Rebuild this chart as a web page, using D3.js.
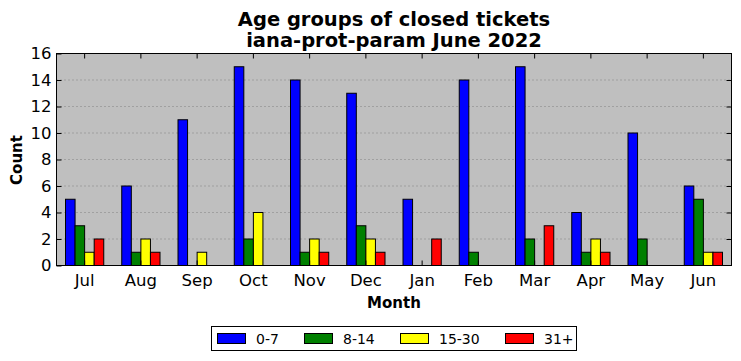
<!DOCTYPE html>
<html><head><meta charset="utf-8">
<script src="https://cdn.jsdelivr.net/npm/d3@7"></script>
<style>body{margin:0;background:#fff;} text{font-family:"DejaVu Sans";}</style>
</head><body>
<svg id="c" width="741" height="361"></svg>
<script>
const months = ["Jul","Aug","Sep","Oct","Nov","Dec","Jan","Feb","Mar","Apr","May","Jun"];
const seriesNames = ["0-7","8-14","15-30","31+"];
const colors = ["#0000ff","#008000","#ffff00","#ff0000"];
const s0_7   = [5,6,11,15,14,13,5,14,15,4,10,6];
const s8_14  = [3,1,0,2,1,3,0,1,2,1,2,5];
const s15_30 = [1,2,1,4,2,2,0,0,0,2,0,1];
const s31p   = [2,1,0,0,1,1,2,0,3,1,0,1];
const series = [s0_7, s8_14, s15_30, s31p];
const yTicks = [0,2,4,6,8,10,12,14,16];

const svg = d3.select("#c");
const L = 56.5, R = 731.5, T = 53.5, B = 265.5;
const x = d3.scaleBand().domain(months).range([L, R]).padding(0);
const y = d3.scaleLinear().domain([0,16]).range([B, T]);

svg.append("rect").attr("x",L).attr("y",T).attr("width",R-L).attr("height",B-T).attr("fill","#bfbfbf");

// grid
svg.append("g").selectAll("line").data(yTicks.slice(1,-1)).join("line")
  .attr("x1",L).attr("x2",R).attr("y1",d=>y(d)).attr("y2",d=>y(d))
  .attr("stroke","#808080").attr("stroke-width",1).attr("stroke-dasharray","1,3");

// bars
const bw = x.bandwidth()*0.17;
series.forEach((vals,si)=>{
  svg.append("g").selectAll("rect").data(vals).join("rect")
    .attr("x",(d,i)=>x(months[i]) + x.bandwidth()/2 + (si-2)*bw)
    .attr("y",d=>y(d))
    .attr("width",bw)
    .attr("height",d=>y(0)-y(d))
    .attr("fill",colors[si]).attr("stroke","#000").attr("stroke-width",1);
});

// frame
svg.append("rect").attr("x",L).attr("y",T).attr("width",R-L).attr("height",B-T).attr("fill","none").attr("stroke","#000").attr("stroke-width",1);

// axes
const yAxis = d3.axisLeft(y).tickValues(yTicks).tickSizeInner(-5).tickSizeOuter(0).tickPadding(5);
const gy = svg.append("g").attr("transform",`translate(${L},0)`).call(yAxis);
gy.select(".domain").remove();
gy.selectAll("text").attr("font-size",16.5).attr("font-family","DejaVu Sans").attr("fill","#000");
const gyr = svg.append("g").attr("transform",`translate(${R},0)`).call(d3.axisRight(y).tickValues(yTicks.slice(1,-1)).tickSizeInner(-5).tickSizeOuter(0).tickFormat(""));
gyr.select(".domain").remove();

const gx = svg.append("g").attr("transform",`translate(0,${B})`).call(d3.axisBottom(x).tickSizeInner(-5).tickSizeOuter(0).tickPadding(9));
gx.select(".domain").remove();
gx.selectAll("text").attr("font-size",16.5).attr("font-family","DejaVu Sans").attr("fill","#000");
const gxt = svg.append("g").attr("transform",`translate(0,${T})`).call(d3.axisTop(x).tickSizeInner(-5).tickSizeOuter(0).tickFormat(""));
gxt.select(".domain").remove();

// titles
svg.append("text").attr("x",(L+R)/2).attr("y",26).attr("text-anchor","middle").attr("font-size",19.5).attr("font-weight","bold").text("Age groups of closed tickets");
svg.append("text").attr("x",(L+R)/2).attr("y",47).attr("text-anchor","middle").attr("font-size",19.5).attr("font-weight","bold").text("iana-prot-param June 2022");
svg.append("text").attr("x",(L+R)/2).attr("y",308).attr("text-anchor","middle").attr("font-size",15).attr("font-weight","bold").text("Month");
svg.append("text").attr("transform","translate(22,160) rotate(-90)").attr("text-anchor","middle").attr("font-size",15).attr("font-weight","bold").text("Count");

// legend
const lg = svg.append("g");
lg.append("rect").attr("x",211.5).attr("y",326.5).attr("width",365).attr("height",24).attr("fill","#fff").attr("stroke","#000");
const lx = [217,304,400,505];
seriesNames.forEach((n,i)=>{
  lg.append("rect").attr("x",lx[i]+0.5).attr("y",333.5).attr("width",28).attr("height",10).attr("fill",colors[i]).attr("stroke","#000");
  lg.append("text").attr("x",lx[i]+39).attr("y",343.5).attr("font-size",14).text(n);
});
</script>
</body></html>
